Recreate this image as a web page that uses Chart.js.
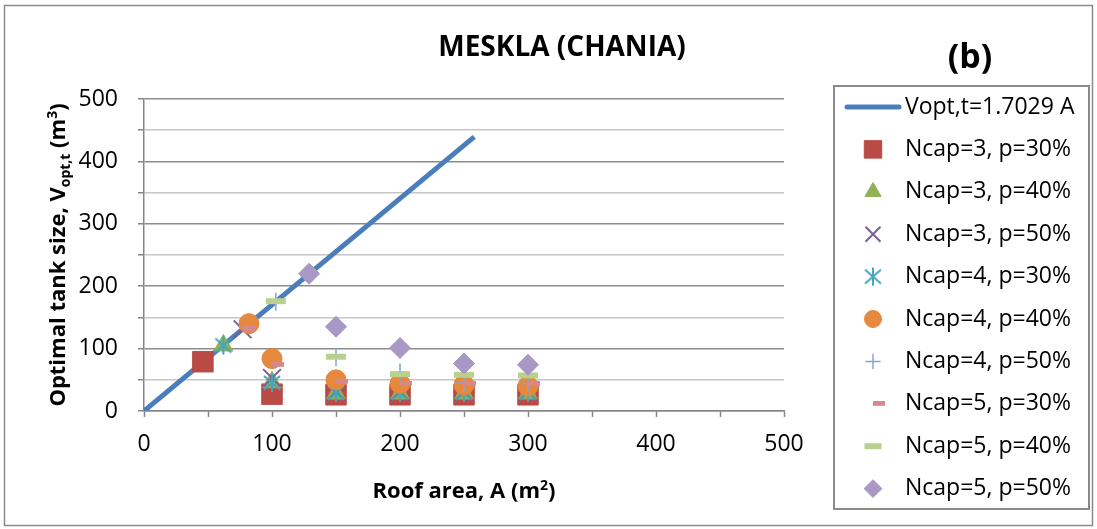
<!DOCTYPE html>
<html>
<head>
<meta charset="utf-8">
<script src="https://cdn.jsdelivr.net/npm/chart.js@4/dist/chart.umd.min.js"></script>
<style>
  html, body { margin: 0; padding: 0; background: #ffffff; }
  #wrap { width: 1097px; height: 529px; position: relative; }
</style>
</head>
<body>
<div id="wrap"><canvas id="c" width="1097" height="529"></canvas></div>
<script>
// Optimal tank volume line: Vopt,t = 1.7029 A
const fitA = [0, 258];
const fitV = [0, 439.3];

// Simulated optimum tank sizes (m³) per roof area (m²)
const n3p30A = [46, 100, 150, 200, 250, 300];
const n3p30V = [79, 27, 26, 26, 26, 26];
const n3p40A = [62, 100, 150, 200, 250, 300];
const n3p40V = [105, 46, 28, 28, 28, 28];
const n3p50A = [77, 100, 150, 200, 250, 300];
const n3p50V = [131, 53, 31, 31, 31, 31];
const n4p30A = [62, 100, 150, 200, 250, 300];
const n4p30V = [105, 45, 29, 29, 29, 29];
const n4p40A = [82, 100, 150, 200, 250, 300];
const n4p40V = [140, 84, 50, 44, 42, 40];
const n4p50A = [103, 150, 200, 250, 300];
const n4p50V = [175, 86, 62, 45, 44];
const n5p30A = [77, 100, 150, 200, 250, 300];
const n5p30V = [131, 74, 47, 44, 44, 43];
const n5p40A = [103, 150, 200, 250, 300];
const n5p40V = [176, 87, 59, 58, 57];
const n5p50A = [129, 150, 200, 250, 300];
const n5p50V = [220, 135, 101, 76, 74];

const seriesLabels = [
  'Vopt,t=1.7029 A',
  'Ncap=3, p=30%', 'Ncap=3, p=40%', 'Ncap=3, p=50%',
  'Ncap=4, p=30%', 'Ncap=4, p=40%', 'Ncap=4, p=50%',
  'Ncap=5, p=30%', 'Ncap=5, p=40%', 'Ncap=5, p=50%'
];

const chartTitle = 'MESKLA (CHANIA)';
const panelTag = '(b)';
const axisTicks = [0, 100, 200, 300, 400, 500];

const FONT = '"Open Sans", "Noto Sans", sans-serif';

function pts(xs, ys) { return xs.map((x, i) => ({ x: x, y: ys[i] })); }

// Asterisk marker: X with a vertical bar
function asteriskMarker(color) {
  const c = document.createElement('canvas');
  c.width = 22; c.height = 22;
  const g = c.getContext('2d');
  g.strokeStyle = color; g.lineWidth = 2; g.lineCap = 'butt';
  g.beginPath();
  g.moveTo(11, 2); g.lineTo(11, 20);
  g.moveTo(3, 4); g.lineTo(19, 18);
  g.moveTo(19, 4); g.lineTo(3, 18);
  g.stroke();
  return c;
}
// Short dash marker, drawn to the right of the point
function shortDashMarker(color) {
  const c = document.createElement('canvas');
  c.width = 24; c.height = 6;
  const g = c.getContext('2d');
  g.fillStyle = color;
  g.fillRect(12, 0, 12, 5);
  return c;
}

const series = [
  { data: pts(n3p30A, n3p30V), style: 'rect', r: 14.5, color: '#b94a46', bw: 1 },
  { data: pts(n3p40A, n3p40V), style: 'triangle', r: 11, color: '#92b154', bw: 1 },
  { data: pts(n3p50A, n3p50V), style: 'crossRot', r: 12.5, color: '#7b5e9c', bw: 2 },
  { data: pts(n4p30A, n4p30V), style: asteriskMarker('#45a4be'), r: 11, color: '#45a4be', bw: 0 },
  { data: pts(n4p40A, n4p40V), style: 'circle', r: 10, color: '#e6883e', bw: 1 },
  { data: pts(n4p50A, n4p50V), style: 'cross', r: 9, color: '#86a5d3', bw: 1.5 },
  { data: pts(n5p30A, n5p30V), style: shortDashMarker('#d6898b'), r: 12, color: '#d6898b', bw: 0 },
  { data: pts(n5p40A, n5p40V), style: 'line', r: 10, color: '#b9d18f', bw: 6 },
  { data: pts(n5p50A, n5p50V), style: 'rectRot', r: 10.5, color: '#a997c5', bw: 1 }
];

const datasets = [{
  label: seriesLabels[0],
  data: pts(fitA, fitV),
  showLine: true,
  borderColor: '#4a7ebb',
  backgroundColor: '#4a7ebb',
  borderWidth: 5,
  pointRadius: 0,
  order: 20
}];
series.forEach((s, i) => {
  datasets.push({
    label: seriesLabels[i + 1],
    data: s.data,
    showLine: false,
    pointStyle: s.style,
    pointRadius: s.r,
    pointHoverRadius: s.r,
    pointBorderWidth: s.bw,
    backgroundColor: s.color,
    borderColor: s.color,
    order: 19 - i
  });
});

// Draws a string made of normal / sub / superscript runs
function richRuns(ctx, runs, size, subSize) {
  const parts = runs.map(r => {
    const sz = r.kind === 'n' ? size : subSize;
    ctx.font = 'bold ' + sz + 'px ' + FONT;
    return { t: r.t, kind: r.kind, sz: sz, w: ctx.measureText(r.t).width };
  });
  return parts;
}
function drawRich(ctx, runs, size, subSize, cx, cy) {
  const parts = richRuns(ctx, runs, size, subSize);
  const total = parts.reduce((a, p) => a + p.w, 0);
  let x = cx - total / 2;
  ctx.textBaseline = 'alphabetic';
  ctx.textAlign = 'left';
  const base = cy + size * 0.36;
  parts.forEach(p => {
    ctx.font = 'bold ' + p.sz + 'px ' + FONT;
    let y = base;
    if (p.kind === 'sub') y = base + size * 0.22;
    if (p.kind === 'sup') y = base - size * 0.38;
    ctx.fillText(p.t, x, y);
    x += p.w;
  });
}

const decorations = {
  id: 'decorations',
  beforeDraw(chart) {
    const ctx = chart.ctx;
    ctx.save();
    ctx.fillStyle = '#ffffff';
    ctx.fillRect(0, 0, chart.width, chart.height);
    ctx.strokeStyle = '#8a8a8a';
    ctx.lineWidth = 1.5;
    ctx.strokeRect(4.5, 5.5, 1088, 520);
    ctx.restore();
  },
  afterDraw(chart) {
    const ctx = chart.ctx;
    ctx.save();
    ctx.fillStyle = '#000000';
    ctx.textAlign = 'center';
    ctx.textBaseline = 'middle';
    ctx.font = 'bold 28px ' + FONT;
    ctx.fillText(chartTitle, 562, 48);
    ctx.font = 'bold 34px ' + FONT;
    ctx.fillText(panelTag, 970, 58);

    // x axis title
    drawRich(ctx, [{ t: 'Roof area, A (m', kind: 'n' }, { t: '2', kind: 'sup' }, { t: ')', kind: 'n' }], 22, 14, 464, 490);

    // y axis title
    ctx.save();
    ctx.translate(57, 255);
    ctx.rotate(-Math.PI / 2);
    drawRich(ctx, [
      { t: 'Optimal tank size, V', kind: 'n' }, { t: 'opt,t', kind: 'sub' },
      { t: ' (m', kind: 'n' }, { t: '3', kind: 'sup' }, { t: ')', kind: 'n' }
    ], 22, 14, 0, 0);
    ctx.restore();

    // legend
    const lx = 834, ly = 86, lw = 255, lh = 423;
    ctx.strokeStyle = '#8a8a8a';
    ctx.lineWidth = 2;
    ctx.strokeRect(lx, ly, lw, lh);
    const rowY0 = 107, rowStep = 42.4, markX = 873, textX = 905;
    ctx.font = '23px ' + FONT;
    ctx.textAlign = 'left';
    ctx.textBaseline = 'middle';
    chart.data.datasets.forEach((ds, i) => {
      const y = rowY0 + i * rowStep;
      if (i === 0) {
        ctx.strokeStyle = ds.borderColor;
        ctx.lineWidth = 5;
        ctx.lineCap = 'round';
        ctx.beginPath();
        ctx.moveTo(847, y); ctx.lineTo(899, y);
        ctx.stroke();
        ctx.lineCap = 'butt';
      } else {
        ctx.save();
        ctx.fillStyle = ds.backgroundColor;
        ctx.strokeStyle = ds.borderColor;
        ctx.lineWidth = ds.pointBorderWidth;
        Chart.helpers.drawPoint(ctx, {
          pointStyle: ds.pointStyle,
          rotation: 0,
          radius: ds.pointRadius * 0.85,
          borderWidth: ds.pointBorderWidth
        }, markX, y);
        ctx.restore();
      }
      ctx.fillStyle = '#000000';
      ctx.font = '23px ' + FONT;
      ctx.fillText(ds.label, textX, y);
    });
    ctx.restore();
  }
};

const tickFont = { family: FONT, size: 23 };

new Chart(document.getElementById('c'), {
  type: 'scatter',
  data: { datasets: datasets },
  options: {
    responsive: false,
    animation: false,
    devicePixelRatio: 1,
    layout: { padding: { top: 99, right: 313, left: 0, bottom: 0 } },
    plugins: { legend: { display: false }, tooltip: { enabled: false } },
    elements: { line: { tension: 0 } },
    scales: {
      x: {
        type: 'linear', min: 0, max: 500,
        afterFit(scale) { scale.height = 118; },
        afterBuildTicks(scale) { scale.ticks = []; for (let v = 0; v <= 500; v += 50) scale.ticks.push({ value: v }); },
        ticks: {
          font: tickFont, color: '#000000', padding: 14, maxRotation: 0, autoSkip: false,
          callback: v => axisTicks.includes(v) ? String(v) : ''
        },
        grid: { drawOnChartArea: false, drawTicks: true, tickLength: 6, tickColor: '#868686', tickWidth: 1.5 },
        border: { color: '#868686', width: 1.5 }
      },
      y: {
        type: 'linear', min: 0, max: 500,
        afterFit(scale) { scale.width = 144; },
        afterBuildTicks(scale) { scale.ticks = []; for (let v = 0; v <= 500; v += 50) scale.ticks.push({ value: v }); },
        ticks: {
          font: tickFont, color: '#000000', padding: 20, autoSkip: false,
          callback: v => axisTicks.includes(v) ? String(v) : ''
        },
        grid: {
          drawTicks: true, tickLength: 6, tickColor: '#868686', tickWidth: 1.5,
          color: ctx => (ctx.tick && ctx.tick.value % 100 === 0) ? '#8c8c8c' : '#c6c6c6',
          lineWidth: 1.5
        },
        border: { color: '#868686', width: 1.5 }
      }
    }
  },
  plugins: [decorations]
});
</script>
</body>
</html>
